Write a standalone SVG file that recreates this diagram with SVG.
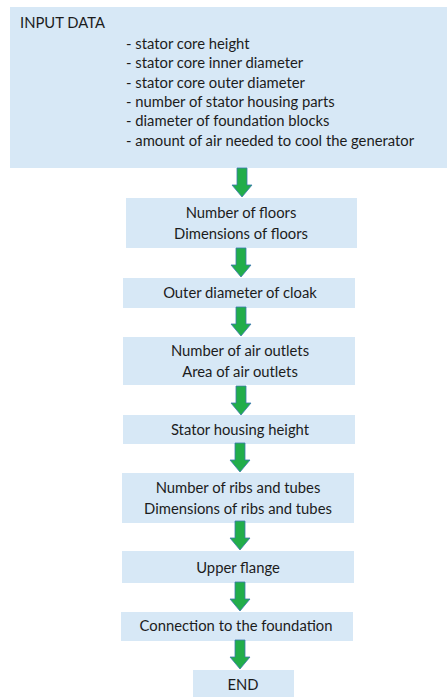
<svg xmlns="http://www.w3.org/2000/svg" width="448" height="697" viewBox="0 0 448 697">
  <defs>
    <style>
      .box { fill: #d7e8f6; }
      .t { font-family: Lato, "Open Sans", "Liberation Sans", sans-serif; font-size: 14.8px; fill: #1c1c1c; }
      .c { text-anchor: middle; }
      .arrow { fill: #22ad4a; stroke: #3a78b0; stroke-width: 0.8; }
    </style>
    <!-- down arrow, tip at (0,0), 29px tall -->
    <path id="down" class="arrow" d="M-5,-29 H5 V-12 H10 L0,0 L-10,-12 H-5 Z"/>
  </defs>

  <rect width="448" height="697" fill="#ffffff"/>

  <g id="input-data">
    <rect class="box" x="10" y="7" width="437" height="161"/>
    <text class="t" x="20" y="28">INPUT DATA</text>
    <text class="t" x="126" y="49">- stator core height</text>
    <text class="t" x="126" y="68">- stator core inner diameter</text>
    <text class="t" x="126" y="87.5">- stator core outer diameter</text>
    <text class="t" x="126" y="107">- number of stator housing parts</text>
    <text class="t" x="126" y="126">- diameter of foundation blocks</text>
    <text class="t" x="126" y="146">- amount of air needed to cool the generator</text>
  </g>

  <g id="floors">
    <rect class="box" x="126" y="198" width="231" height="50"/>
    <text class="t c" x="241" y="218">Number of floors</text>
    <text class="t c" x="241" y="239">Dimensions of floors</text>
  </g>

  <g id="cloak">
    <rect class="box" x="123" y="278" width="232" height="30"/>
    <text class="t c" x="240" y="298">Outer diameter of cloak</text>
  </g>

  <g id="air-outlets">
    <rect class="box" x="123" y="337" width="232" height="48"/>
    <text class="t c" x="240" y="356">Number of air outlets</text>
    <text class="t c" x="240" y="377">Area of air outlets</text>
  </g>

  <g id="housing-height">
    <rect class="box" x="123" y="415" width="232" height="29"/>
    <text class="t c" x="240" y="435">Stator housing height</text>
  </g>

  <g id="ribs-tubes">
    <rect class="box" x="122" y="473" width="232" height="50"/>
    <text class="t c" x="238" y="493">Number of ribs and tubes</text>
    <text class="t c" x="238" y="514">Dimensions of ribs and tubes</text>
  </g>

  <g id="upper-flange">
    <rect class="box" x="122" y="551" width="232" height="32"/>
    <text class="t c" x="238" y="573">Upper flange</text>
  </g>

  <g id="foundation">
    <rect class="box" x="121" y="612" width="232" height="29"/>
    <text class="t c" x="236" y="631">Connection to the foundation</text>
  </g>

  <g id="end">
    <rect class="box" x="193" y="670" width="101" height="27"/>
    <text class="t c" x="243" y="690">END</text>
  </g>

  <g id="connectors">
    <use href="#down" x="242" y="197"/>
    <use href="#down" x="241" y="277"/>
    <use href="#down" x="241" y="336"/>
    <use href="#down" x="241" y="415"/>
    <use href="#down" x="240" y="472"/>
    <use href="#down" x="240" y="550"/>
    <use href="#down" x="240" y="611"/>
    <use href="#down" x="240" y="669"/>
  </g>
</svg>
